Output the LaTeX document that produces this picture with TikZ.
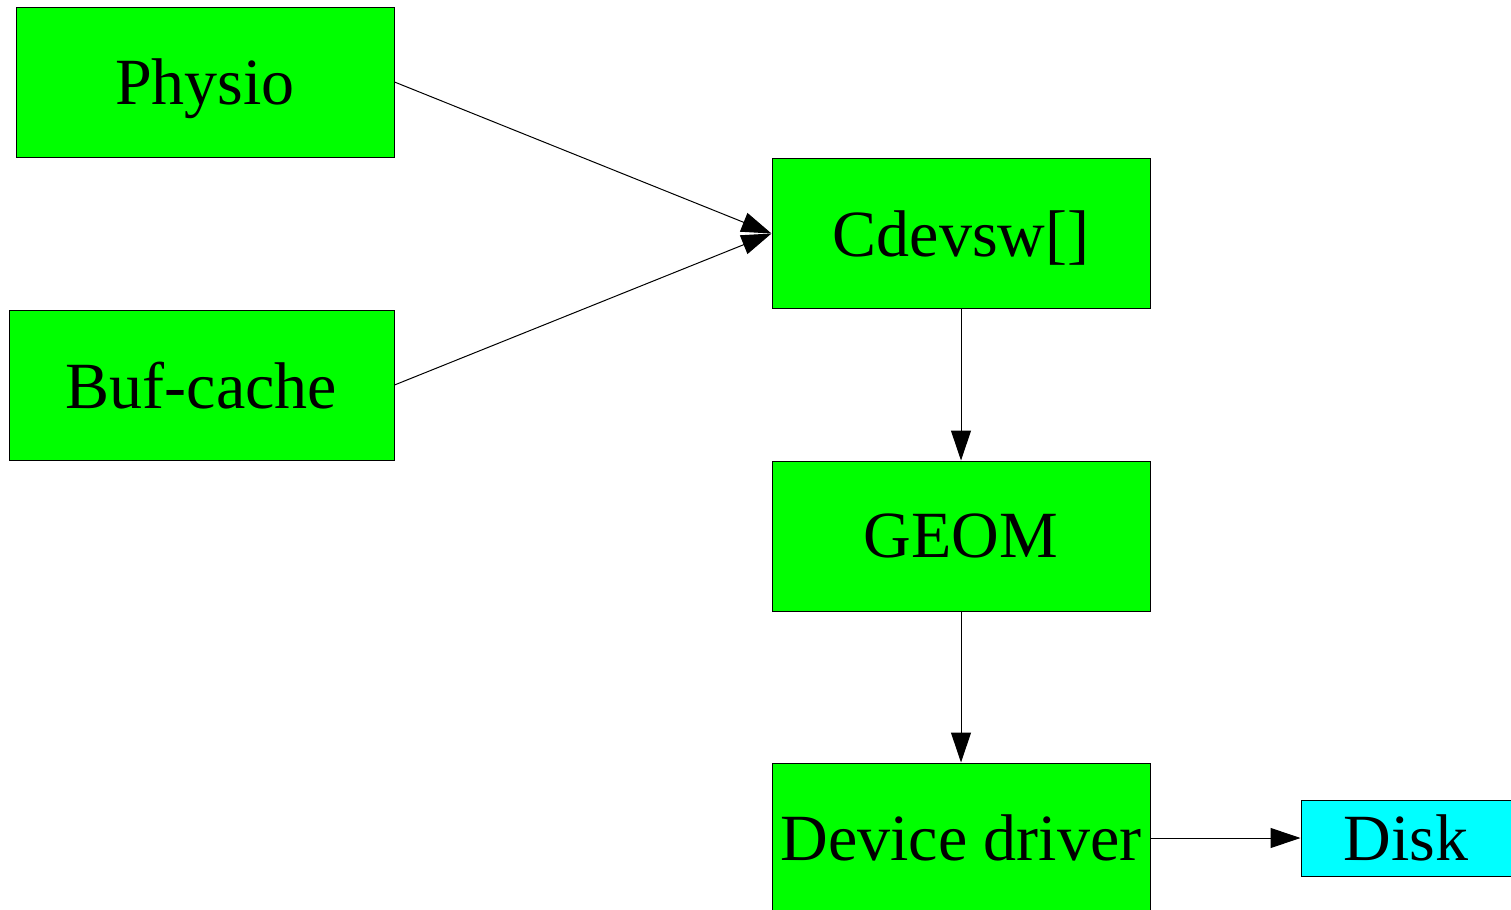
\documentclass[tikz,border=0pt]{standalone}
\usepackage{fontspec}
\setmainfont{Liberation Serif}
\usetikzlibrary{arrows.meta}

\begin{document}
\begin{tikzpicture}[x=0.5pt,y=-0.5pt]
   \tikzstyle{every node}=[draw, line width=0.5pt, font=\fontsize{33}{39}\selectfont, text depth=-2pt]
   \tikzstyle{layer}=[fill={rgb,255:red,0;green,255;blue,0}, minimum width=189pt, minimum height=75pt, inner sep=0pt]
   \tikzstyle{store}=[fill={rgb,255:red,0;green,255;blue,255}, minimum width=105pt, minimum height=38pt, inner sep=0pt]
   \tikzstyle{call}=[draw, line width=0.5pt, -{Triangle[length=15pt,width=10pt]}]

\useasboundingbox (0,0) rectangle (1511,910);

\node[layer] (physio) at (205,82) {Physio};
\node[layer, minimum width=192.5pt] (bufcache) at (201.5,385) {Buf-cache};
\node[layer] (cdevsw) at (961,233.5) {Cdevsw[]};
\node[layer] (geom) at (961,536) {GEOM};
\node[layer] (driver) at (961,838) {Device driver};
\node[store] (disk) at (1406,838) {Disk};

\draw[call] (physio.east) -- (cdevsw.west);
\draw[call] (bufcache.east) -- (cdevsw.west);
\draw[call] (cdevsw) -- (geom);
\draw[call] (geom) -- (driver);
\draw[call] (driver) -- (disk);

\end{tikzpicture}
\end{document}
